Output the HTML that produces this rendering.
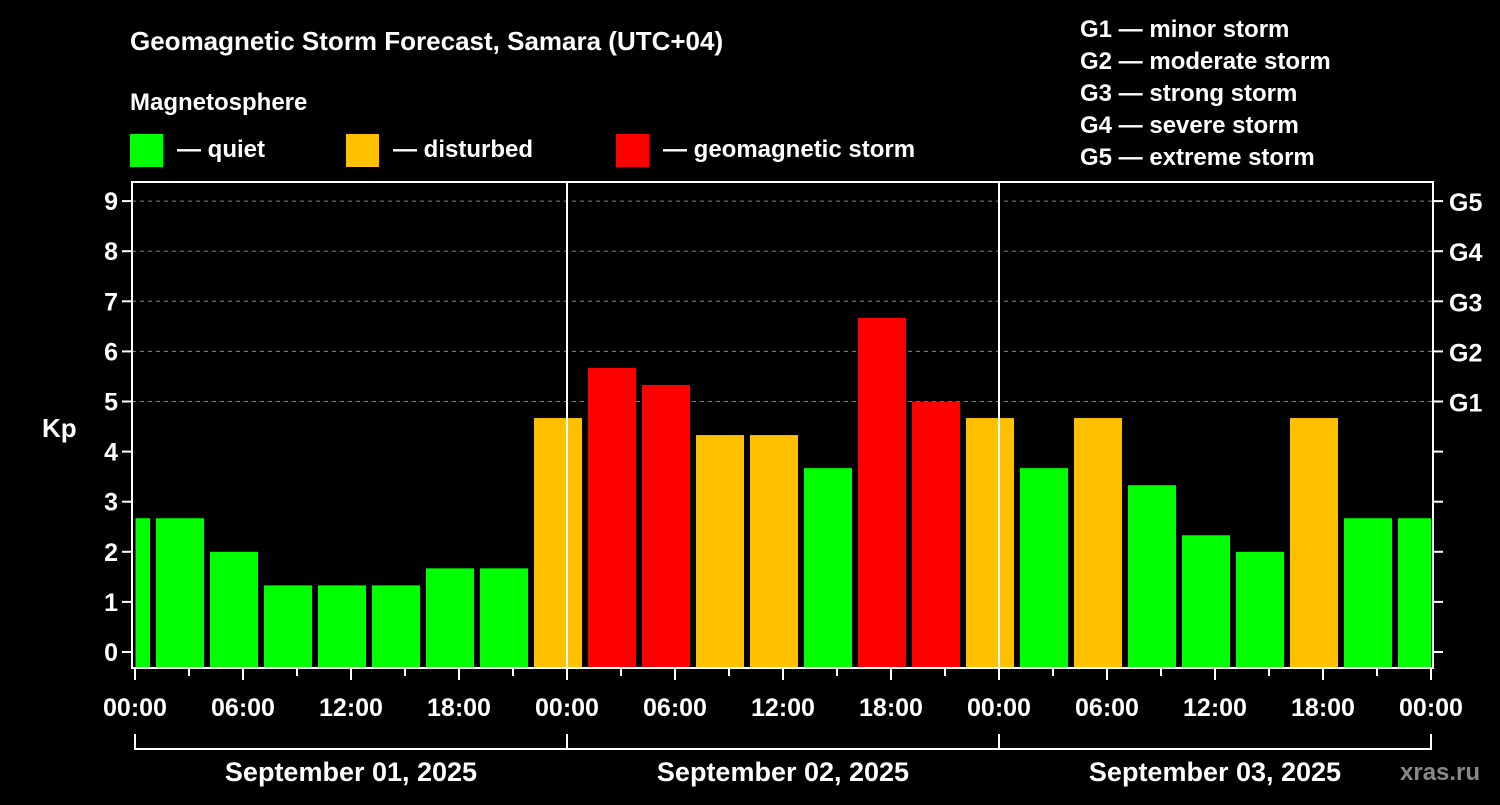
<!DOCTYPE html>
<html><head><meta charset="utf-8"><style>
body{margin:0;background:#000;}
svg text{font-family:"Liberation Sans",Arial,sans-serif;font-weight:bold;fill:#fff;}
</style></head><body>
<svg id="c" width="1500" height="800" xmlns="http://www.w3.org/2000/svg">
<rect width="1500" height="800" fill="#000"/>
<text x="130" y="50" font-size="26">Geomagnetic Storm Forecast, Samara (UTC+04)</text>
<text x="130" y="110" font-size="24">Magnetosphere</text>
<g><rect x="130" y="134" width="33" height="33" fill="#00ff00"/><text x="177" y="157" font-size="24">— quiet</text></g>
<g><rect x="346" y="134" width="33" height="33" fill="#ffc000"/><text x="393" y="157" font-size="24">— disturbed</text></g>
<g><rect x="616" y="134" width="33" height="33" fill="#ff0000"/><text x="663" y="157" font-size="24">— geomagnetic storm</text></g>
<g font-size="24">
<text x="1080" y="37">G1 — minor storm</text>
<text x="1080" y="69">G2 — moderate storm</text>
<text x="1080" y="101">G3 — strong storm</text>
<text x="1080" y="133">G4 — severe storm</text>
<text x="1080" y="165">G5 — extreme storm</text>
</g>
<text x="42" y="437" font-size="26">Kp</text>
<text x="1400" y="780" font-size="24" fill="#888" style="fill:#888">xras.ru</text>
<g id="plot"></g>
</svg>
<script>
const kpValues=[2.67,2.67,2,1.33,1.33,1.33,1.67,1.67,4.67,5.67,5.33,4.33,4.33,3.67,6.67,5,4.67,3.67,4.67,3.33,2.33,2,4.67,2.67,2.67];
const barCenterHours=[-0.5,2.5,5.5,8.5,11.5,14.5,17.5,20.5,23.5,26.5,29.5,32.5,35.5,38.5,41.5,44.5,47.5,50.5,53.5,56.5,59.5,62.5,65.5,68.5,71.5];
const dayLabels=["September 01, 2025","September 02, 2025","September 03, 2025"];
const hourLabels=["00:00","06:00","12:00","18:00"];
const gLabels=["G1","G2","G3","G4","G5"];
const NS="http://www.w3.org/2000/svg";
const g=document.getElementById('plot');
const X=h=>135+h*18, Y=k=>652-k*50.1;
const L=132,R=1433,T=182,B=668;
function el(t,a){const e=document.createElementNS(NS,t);for(const k in a)e.setAttribute(k,a[k]);g.appendChild(e);return e;}
for(let k=5;k<=9;k++){const e=el('line',{x1:L,x2:R,y1:Y(k),y2:Y(k),stroke:'#888','stroke-dasharray':'4,4'});

}
kpValues.forEach((v,i)=>{
 const c=barCenterHours[i];
 const x0=Math.max(X(c)-24,X(0)+0.5), x1=Math.min(X(c)+24,X(72));
 const col=v>=5?'#ff0000':(v>=4?'#ffc000':'#00ff00');
 const r=el('rect',{x:x0,y:Y(v),width:x1-x0,height:B-Y(v),fill:col});
 
 
});
[1,2].forEach(d=>{const e=el('line',{x1:X(d*24),x2:X(d*24),y1:T,y2:B,stroke:'#fff','stroke-width':2});

});
const fr=el('rect',{x:L,y:T,width:R-L,height:B-T,fill:'none',stroke:'#fff','stroke-width':2});


for(let k=0;k<=9;k++){
 el('line',{x1:L-10,x2:L,y1:Y(k),y2:Y(k),stroke:'#fff','stroke-width':2});
 el('line',{x1:R,x2:R+10,y1:Y(k),y2:Y(k),stroke:'#fff','stroke-width':2});
 const t=el('text',{x:L-14,y:Y(k)+9,'font-size':25,'text-anchor':'end'});t.textContent=k;
 
 
 if(k>=5){const t2=el('text',{x:1449,y:Y(k)+10,'font-size':25});t2.textContent=gLabels[k-5];
 
 }
}
for(let h=0;h<=72;h+=3){
 const major=h%6===0;
 el('line',{x1:X(h),x2:X(h),y1:B,y2:B+(major?12:8),stroke:'#fff','stroke-width':2});
 if(major){const t=el('text',{x:X(h),y:716,'font-size':25,'text-anchor':'middle'});t.textContent=hourLabels[(h/6)%4];
 
 }
}
dayLabels.forEach((d,i)=>{
 const a=X(i*24),b=X(i*24+24);
 el('path',{d:`M${a} 734V749H${b}V734`,fill:'none',stroke:'#fff','stroke-width':2});
 const t=el('text',{x:(a+b)/2,y:781,'font-size':27,'text-anchor':'middle'});t.textContent=d;
 
 
});
</script>
</body></html>
